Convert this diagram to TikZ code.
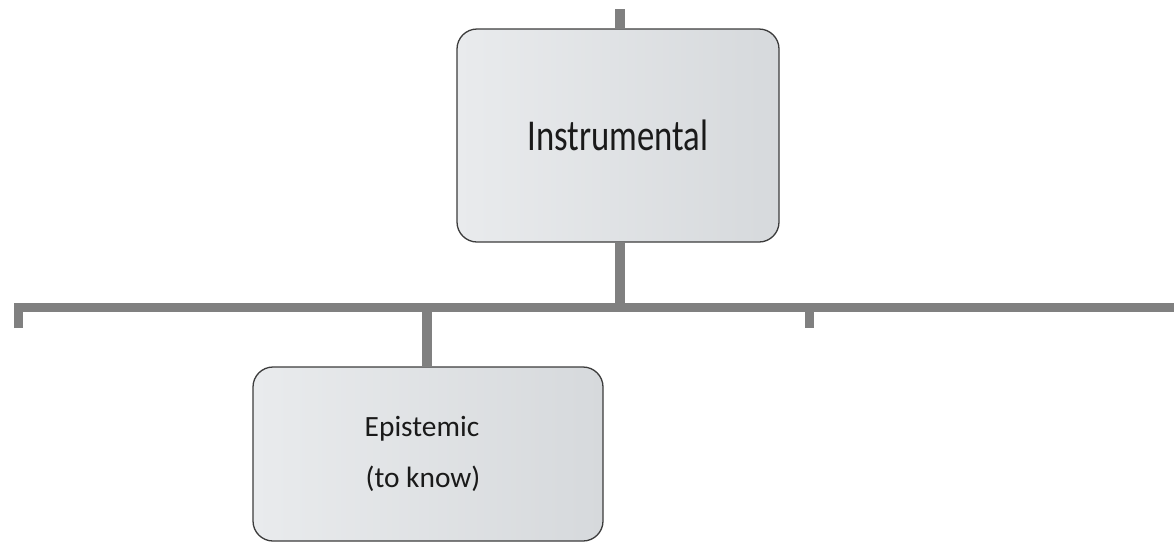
\documentclass[tikz,border=0pt]{standalone}
\usepackage{fontspec}
\setmainfont{Carlito}
\usetikzlibrary{backgrounds}
\definecolor{boxleft}{HTML}{E9EBED}
\definecolor{boxright}{HTML}{D6D9DC}
\definecolor{boxedge}{HTML}{3C3C3C}
\definecolor{connector}{HTML}{808080}
\definecolor{labeltext}{HTML}{1A1A1A}
\tikzset{
  orgbox/.style={draw=boxedge, line width=1.3pt, rounded corners=20pt,
    left color=boxleft, right color=boxright, text=labeltext,
    align=center, inner sep=0pt},
  link/.style={draw=connector, line width=9.5pt, line join=miter}
}
\begin{document}
\begin{tikzpicture}[x=1pt,y=-1pt]
\useasboundingbox (0,0) rectangle (1174,542);
% boxes
\node[orgbox, minimum width=322pt, minimum height=213pt,
      font=\fontsize{34.7}{40}\selectfont] (instr) at (618,135.5)
  {\scalebox{1}[1.27]{Instrumental}};
\node[orgbox, minimum width=350pt, minimum height=174pt,
      font=\fontsize{29.4}{51}\selectfont] (epis) at (428,454)
  {Epistemic\hspace*{12pt}\\(to know)\hspace*{10pt}};
% connector points
\coordinate (top) at (620,9);
\coordinate (hub) at (620,307.5);
\coordinate (barleft) at (18.5,307.5);
\coordinate (barright) at (1174,307.5);
\coordinate (dropleft) at (18.5,328);
\coordinate (midtap) at (427,307.5);
\coordinate (righttap) at (809.5,307.5);
\coordinate (dropright) at (809.5,328);
\begin{scope}[on background layer]
  \draw[link] (top) -- (instr.north -| top);
  \draw[link] (instr.south -| hub) -- (hub);
  \draw[link] (dropleft) -- (barleft) -- (barright);
  \draw[link] (midtap) -- (epis.north -| midtap);
  \draw[link] (righttap) -- (dropright);
\end{scope}
\end{tikzpicture}
\end{document}
